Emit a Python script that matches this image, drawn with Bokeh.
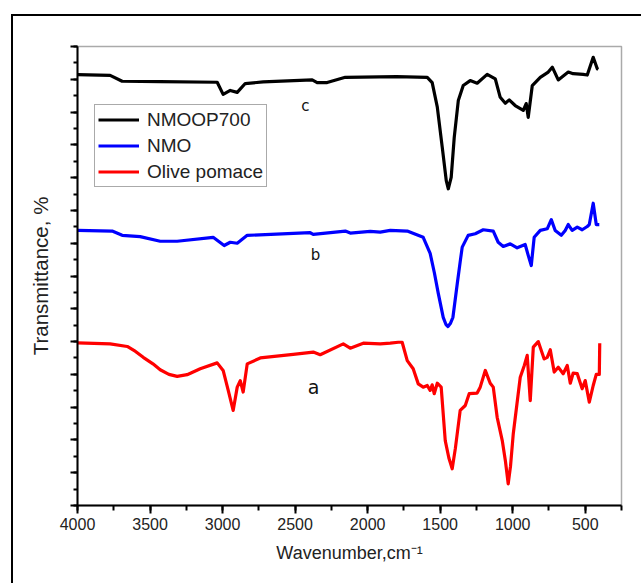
from bokeh.plotting import figure
from bokeh.models import Range1d, SingleIntervalTicker, Legend, LegendItem, Label
from bokeh.embed import file_html
from bokeh.resources import INLINE

# ---- data ----
wn_c = [4000, 3775, 3692, 3430, 3037, 2996, 2947, 2899, 2844, 2720, 2382, 2348, 2279, 2154, 1800,
        1589, 1555, 1520, 1486, 1458, 1444, 1424, 1403, 1375, 1341, 1293, 1245, 1176, 1120, 1086,
        1051, 1024, 983, 927, 907, 893, 865, 810, 755, 727, 686, 617, 583, 514, 486, 445, 417, 410]
t_c = [131.4, 131.2, 129.4, 129.3, 129.1, 125.4, 126.6, 126.0, 128.7, 129.2, 129.8, 129.0, 129.0, 130.6, 130.8,
       130.6, 129.0, 121.6, 109.4, 99.1, 96.6, 100.1, 112.3, 123.5, 128.1, 129.6, 128.8, 131.5, 130.1, 124.5,
       122.7, 123.7, 122.0, 120.5, 122.6, 118.4, 128.1, 130.6, 132.2, 133.7, 129.8, 132.2, 131.7, 131.5, 131.3,
       136.7, 133.2, 133.0]

wn_b = [4000, 3761, 3692, 3568, 3430, 3313, 3065, 2989, 2947, 2899, 2830, 2396, 2375, 2154, 2120, 1982,
        1913, 1844, 1727, 1617, 1569, 1540, 1513, 1479, 1460, 1446, 1430, 1412, 1382, 1360, 1348, 1307,
        1258, 1203, 1134, 1100, 1065, 1017, 969, 914, 893, 872, 852, 810, 762, 734, 707, 665, 638, 617,
        590, 555, 521, 486, 472, 445, 424, 403]
t_b = [83.9, 83.7, 82.4, 82.0, 80.6, 80.6, 81.8, 79.3, 80.3, 80.0, 82.4, 83.2, 82.7, 83.7, 83.1, 83.6,
       83.4, 83.9, 83.7, 81.8, 76.9, 71.0, 64.7, 57.4, 55.2, 54.6, 55.5, 57.4, 67.7, 75.0, 78.8, 82.4,
       82.9, 84.1, 83.7, 80.3, 79.0, 79.8, 78.6, 79.6, 76.3, 73.2, 81.8, 83.9, 84.4, 87.2, 83.9, 82.4, 83.9, 85.7,
       83.9, 84.9, 84.1, 85.1, 85.7, 92.2, 85.7, 85.7]

wn_a = [4000, 3775, 3657, 3600, 3547, 3480, 3430, 3370, 3313, 3244, 3154, 3037, 2996, 2961, 2927, 2899, 2878,
        2858, 2830, 2740, 2513, 2375, 2327, 2168, 2120, 2030, 1913, 1844, 1789, 1762, 1727, 1686, 1651,
        1617, 1589, 1569, 1555, 1541, 1520, 1493, 1465, 1440, 1417, 1395, 1362, 1327, 1300, 1245, 1224,
        1189, 1155, 1134, 1107, 1072, 1050, 1031, 1015, 996, 948, 920, 900, 893, 879, 858, 824, 783, 762,
        741, 714, 686, 652, 624, 603, 583, 555, 521, 500, 472, 445, 424, 403, 400]
t_a = [49.6, 49.3, 48.5, 47.0, 45.2, 43.2, 41.4, 40.0, 39.4, 39.9, 41.7, 43.5, 41.2, 35.1, 29.0, 36.1, 38.1,
       34.6, 43.2, 45.0, 46.1, 46.8, 46.0, 49.3, 48.0, 49.5, 49.3, 49.5, 49.8, 49.8, 44.2, 41.7, 37.1,
       36.1, 36.6, 35.1, 36.8, 34.1, 37.3, 36.1, 19.8, 14.5, 11.2, 17.5, 29.0, 30.5, 34.1, 34.3, 36.1,
       41.2, 37.3, 36.1, 26.9, 19.8, 13.5, 6.6, 12.0, 21.9, 39.1, 42.7, 45.8, 41.2, 32.0, 48.3, 50.0, 44.7, 45.2,
       47.5, 40.7, 42.2, 40.2, 42.7, 37.3, 40.4, 40.2, 35.6, 38.1, 31.5, 36.6, 40.0, 40.0, 49.5]

series_names = ["NMOOP700", "NMO", "Olive pomace"]
series_colors = ["#000000", "#0000ff", "#ff0000"]
curve_letters = ["c", "b", "a"]
letter_pos_wn = [2430, 2360, 2373]
letter_pos_t = [121.7, 76.3, 36.0]

# ---- figure ----
p = figure(width=630, height=569, x_range=Range1d(4000, 250), y_range=Range1d(0, 140),
           output_backend="svg", toolbar_location=None,
           min_border_left=64, min_border_right=22, min_border_top=30, min_border_bottom=80,
           margin=(14, 0, 0, 11))
p.styles = {"border-left": "2px solid black", "border-top": "2px solid black"}
p.background_fill_color = "white"
p.border_fill_color = "white"
p.outline_line_color = "#aaaaaa"
p.outline_line_width = 1.5
p.grid.visible = False

renderers = []
for wn, t, col in zip([wn_c, wn_b, wn_a], [t_c, t_b, t_a], series_colors):
    r = p.line(wn, t, line_color=col, line_width=3.2, line_join="round")
    renderers.append(r)

for letter, xw, yt, fs in zip(curve_letters, letter_pos_wn, letter_pos_t, ["15px", "15px", "19px"]):
    p.add_layout(Label(x=xw, y=yt, text=letter, text_font="DejaVu Sans", text_font_size=fs,
                       text_align="center", text_baseline="middle", text_color="#111111"))

# x axis
xa = p.xaxis[0]
xa.ticker = SingleIntervalTicker(interval=500, num_minor_ticks=2)
xa.axis_line_width = 2
xa.major_tick_line_width = 2
xa.minor_tick_line_width = 2
xa.major_tick_in = 0
xa.major_tick_out = 8
xa.minor_tick_in = 0
xa.minor_tick_out = 5
xa.major_label_text_font = "Liberation Sans"
xa.major_label_text_font_size = "16px"
xa.major_label_text_color = "#222222"
xa.major_label_standoff = 4
xa.axis_label = "Wavenumber,cm\u207b\u00b9"
xa.axis_label_text_font = "Liberation Sans"
xa.axis_label_text_font_size = "18px"
xa.axis_label_text_font_style = "normal"
xa.axis_label_text_color = "#222222"
xa.axis_label_standoff = 10

# y axis (ticks only, numbers not shown)
ya = p.yaxis[0]
ya.ticker = SingleIntervalTicker(interval=10, num_minor_ticks=2)
ya.major_label_text_font_size = "0px"
ya.axis_line_width = 2
ya.major_tick_line_width = 2
ya.minor_tick_line_width = 2
ya.major_tick_in = 0
ya.major_tick_out = 7
ya.minor_tick_in = 0
ya.minor_tick_out = 4
ya.major_label_standoff = 0
ya.axis_label = "Transmittance, %"
ya.axis_label_text_font = "Liberation Sans"
ya.axis_label_text_font_size = "20.5px"
ya.axis_label_text_font_style = "normal"
ya.axis_label_text_color = "#222222"
ya.axis_label_standoff = 19

legend = Legend(items=[LegendItem(label=n, renderers=[r]) for n, r in zip(series_names, renderers)],
                location=(17, 318), padding=3, spacing=3, margin=0,
                glyph_width=41, glyph_height=23, label_height=23, label_standoff=8,
                label_text_font="Liberation Sans", label_text_font_size="19px",
                label_text_color="#222222",
                border_line_color="#555555", border_line_width=1,
                background_fill_color="white", background_fill_alpha=1)
p.add_layout(legend)

open("out.html", "w").write(file_html(p, INLINE))
